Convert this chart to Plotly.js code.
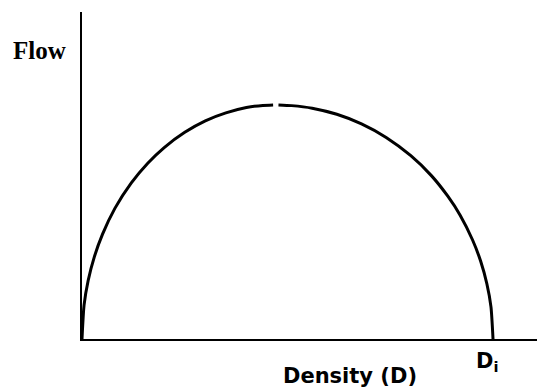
<!DOCTYPE html>
<html>
<head>
<meta charset="utf-8">
<script src="https://cdn.plot.ly/plotly-3.0.1.min.js"></script>
<style>html,body{margin:0;padding:0;background:#fff;}#chart{width:537px;height:392px;}</style>
</head>
<body>
<div id="chart"></div>
<script>
// Flow–density curve (density in % of jam density D_i, flow in % of maximum)
var density = [0, 0.5, 1.5, 3, 5, 8, 12, 16, 20, 25, 30, 35, 40, 44, 46.5, 47.1, 47.8, 51, 56, 62, 68, 74, 80, 85, 89, 92, 95, 97, 98.5, 99.5, 100];
var flow    = [0, 14.5, 25.0, 35.1, 44.8, 55.8, 66.7, 75.1, 81.8, 88.3, 93.2, 96.6, 98.9, 99.8, 100, null, 100, 99.7, 98.6, 96.0, 91.9, 86.1, 78.3, 69.8, 61.0, 52.9, 42.4, 33.2, 23.6, 13.7, 0];
var xLabel = "Density (D)";
var yLabel = "Flow";
var jamLabel = "D<sub>i</sub>";

var W = 537, H = 392, L = 82, R = 0, T = 12, B = 53;
function px(x){ return (x - L) / (W - L - R); }
function py(y){ return (H - B - y) / (H - T - B); }

var trace = {
  x: density, y: flow, type: 'scatter', mode: 'lines',
  line: {color: '#000', width: 3, shape: 'spline', smoothing: 0.6},
  connectgaps: false, hoverinfo: 'skip'
};

var layout = {
  width: W, height: H,
  margin: {l: L, r: R, t: T, b: B, pad: 0},
  paper_bgcolor: '#fff', plot_bgcolor: '#fff',
  showlegend: false,
  xaxis: {range: [0, 110.7], showline: true, linecolor: '#000', linewidth: 2,
          showgrid: false, zeroline: false, showticklabels: false, ticks: ''},
  yaxis: {range: [0, 139.7], showline: true, linecolor: '#000', linewidth: 2,
          showgrid: false, zeroline: false, showticklabels: false, ticks: ''},
  annotations: [
    {text: yLabel, xref: 'paper', yref: 'paper', x: px(39.5), y: py(51),
     xanchor: 'center', yanchor: 'middle', showarrow: false,
     font: {family: 'Liberation Serif, Times New Roman, serif', size: 25, color: '#000', weight: 'bold'}},
    {text: xLabel, xref: 'paper', yref: 'paper', x: px(350), y: py(376),
     xanchor: 'center', yanchor: 'middle', showarrow: false,
     font: {family: 'DejaVu Sans, sans-serif', size: 21, color: '#000', weight: 'bold'}},
    {text: jamLabel, xref: 'paper', yref: 'paper', x: px(487), y: py(362),
     xanchor: 'center', yanchor: 'middle', showarrow: false,
     font: {family: 'DejaVu Sans, sans-serif', size: 21, color: '#000', weight: 'bold'}}
  ]
};

Plotly.newPlot('chart', [trace], layout, {displayModeBar: false, staticPlot: true});
</script>
</body>
</html>
